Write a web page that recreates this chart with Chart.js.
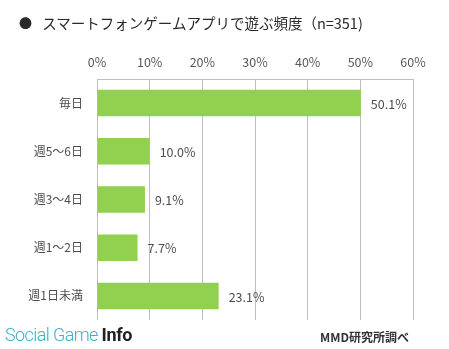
<!DOCTYPE html>
<html>
<head>
<meta charset="utf-8">
<script src="https://cdn.jsdelivr.net/npm/chart.js@4/dist/chart.umd.min.js"></script>
<style>
  html, body { margin: 0; padding: 0; background: #fff; }
  #wrap { position: relative; width: 449px; height: 349px; overflow: hidden; background: #fff; }
  #c { position: absolute; left: 0; top: 0; }
  .t { position: absolute; white-space: nowrap; }
  #title { left: 19px; top: 12px; font: 14.5px "Noto Sans CJK JP", sans-serif; color: #2a2a2a; }
  #title .dot { display: inline-block; width: 20px; font-size: 13px; vertical-align: 1px; }
  #logo { left: 5px; top: 324px; font: 300 18px Roboto, "Liberation Sans", sans-serif; color: #3aaed0; letter-spacing: -0.6px; }
  #logo b { font-weight: 700; color: #222; letter-spacing: -0.4px; }
  #src { left: 320px; top: 328px; font: bold 12px "Noto Sans CJK JP", sans-serif; color: #333; }
</style>
</head>
<body>
<div id="wrap">
  <canvas id="c" width="449" height="349"></canvas>
  <div class="t" id="title"><span class="dot">●</span> スマートフォンゲームアプリで遊ぶ頻度（n=351)</div>
  <div class="t" id="logo">Social Game <b>Info</b></div>
  <div class="t" id="src">MMD研究所調べ</div>
</div>
<script>
const categories = ["毎日", "週5～6日", "週3～4日", "週1～2日", "週1日未満"];
const values = [50.1, 10.0, 9.1, 7.7, 23.1];
const valueLabels = ["50.1%", "10.0%", "9.1%", "7.7%", "23.1%"];
const tickValues = [0, 10, 20, 30, 40, 50, 60];

const labelPlugin = {
  id: 'barLabels',
  afterDatasetsDraw(chart) {
    const ctx = chart.ctx;
    const meta = chart.getDatasetMeta(0);
    ctx.save();
    ctx.font = '12.5px "Noto Sans CJK JP", sans-serif';
    ctx.fillStyle = '#4d4d4d';
    ctx.textAlign = 'left';
    ctx.textBaseline = 'middle';
    meta.data.forEach((bar, i) => {
      ctx.fillText(valueLabels[i], bar.x + 10, bar.y + 1);
    });
    ctx.restore();
  }
};

new Chart(document.getElementById('c'), {
  type: 'bar',
  data: {
    labels: categories,
    datasets: [{
      data: values,
      backgroundColor: '#92D050',
      borderWidth: 0,
      categoryPercentage: 1,
      barPercentage: 0.55
    }]
  },
  options: {
    indexAxis: 'y',
    responsive: false,
    animation: false,
    devicePixelRatio: 1,
    layout: { padding: { left: 0, right: 36, top: 0, bottom: 29 } },
    plugins: { legend: { display: false }, tooltip: { enabled: false } },
    scales: {
      x: {
        position: 'top',
        min: 0, max: 60,
        afterBuildTicks(scale) { scale.ticks = tickValues.map(v => ({ value: v })); },
        afterFit(scale) { scale.height = 79; },
        ticks: {
          color: '#595959',
          font: { family: '"Noto Sans CJK JP", sans-serif', size: 12.5 },
          padding: 9,
          callback: v => v + '%'
        },
        grid: { color: '#bfbfbf', lineWidth: 1, drawTicks: false },
        border: { display: true, color: '#bfbfbf' }
      },
      y: {
        afterFit(scale) { scale.width = 97; },
        ticks: {
          color: '#4d4d4d',
          font: { family: '"Noto Sans CJK JP", sans-serif', size: 12 },
          padding: 14
        },
        grid: { display: false, drawTicks: false },
        border: { display: false }
      }
    }
  },
  plugins: [labelPlugin]
});
</script>
</body>
</html>
